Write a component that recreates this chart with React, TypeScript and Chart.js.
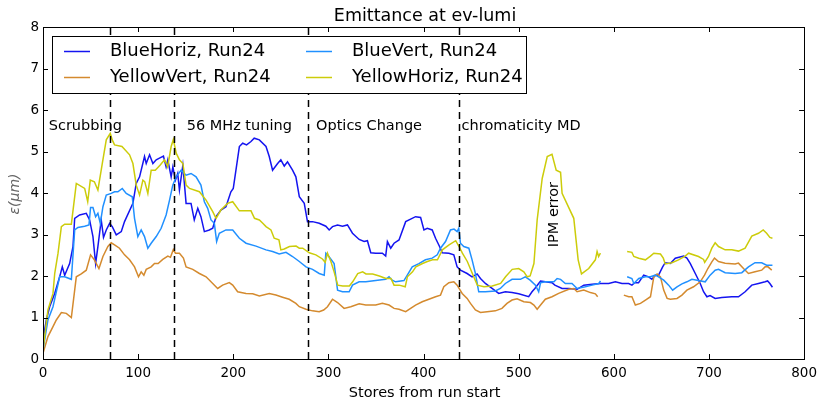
import React, { useEffect, useRef } from "react";
import { Chart, registerables } from "chart.js";

Chart.register(...registerables);

// ---------- data ----------
const bhX = [0, 3.5, 7, 12.3, 17.5, 20.3, 22.8, 28, 31.5, 33.3, 38.5, 45.5, 49, 52.5, 55.3, 57.7, 61.2, 63.6, 66.5, 70, 72.8, 77, 82.3, 85.7, 94.5, 98, 101.5, 106.7, 108.5, 112, 115.5, 119, 122.4, 126.6, 129.4, 131.2, 134.7, 136.5, 139.2, 141.6, 143.4, 147, 150.4, 155.6, 159, 162.7, 166, 169.6, 174.8, 178.4, 181.9, 187, 192.3, 197.5, 200, 206.4, 209.9, 214, 218.6, 222, 227.4, 234.4, 237.8, 241.3, 246.6, 250, 253.6, 257, 262.3, 265.8, 269.4, 274.6, 278, 283.3, 290.3, 297.3, 300.8, 304.3, 309.6, 314.8, 320, 325.3, 332.3, 337.5, 341, 344.5, 349.7, 356.7, 360.2, 362, 365.5, 369, 374.2, 381.2, 386.4, 391.6, 396.9, 400.4, 403.9, 409.1, 412.6, 416.8, 419.6, 426.6, 431.8, 435.3, 438.8, 445.8, 451, 456.3, 459.8, 465, 472, 479, 486, 493, 500, 510.5, 514, 517, 521, 523, 528, 535, 538, 545.6, 552.6, 561.4, 568.4, 577.2, 586, 594.6, 601.6, 608.6, 615.6, 619, 622, 626, 631.4, 636.6, 640, 643.6, 647, 651.3, 654, 659.4, 664.6, 673.4, 676.8, 680.4, 685.6, 690.8, 694.3, 697.8, 701.2, 706.5, 713.5, 724, 731, 738, 745, 752, 759, 761.6, 764, 766.7];
const bhY = [0.46, 0.94, 1.26, 1.58, 1.98, 2.22, 2.02, 2.3, 2.71, 3.39, 3.47, 3.51, 3.35, 2.95, 2.3, 2.71, 3.35, 2.93, 3.11, 3.27, 3.19, 2.99, 3.07, 3.31, 3.75, 4.23, 4.39, 4.88, 4.71, 4.92, 4.71, 4.8, 4.84, 4.89, 4.63, 4.8, 4.39, 4.63, 4.31, 4.47, 4.07, 4.67, 3.75, 3.75, 3.35, 3.63, 3.43, 3.07, 3.11, 3.15, 3.43, 3.59, 3.67, 4.03, 4.11, 5.12, 5.2, 5.16, 5.24, 5.32, 5.28, 5.12, 4.88, 4.55, 4.71, 4.8, 4.65, 4.75, 4.55, 4.39, 3.91, 3.75, 3.31, 3.31, 3.27, 3.2, 3.11, 3.19, 3.23, 3.2, 3.23, 3.03, 2.88, 2.83, 2.85, 2.56, 2.55, 2.55, 2.48, 2.83, 2.67, 2.79, 2.87, 3.31, 3.37, 3.43, 3.41, 3.11, 3.15, 3.11, 2.91, 2.71, 2.56, 2.55, 2.51, 2.22, 2.14, 2.06, 1.98, 2.05, 1.94, 1.82, 1.7, 1.58, 1.62, 1.6, 1.57, 1.5, 1.62, 1.7, 1.82, 1.88, 1.86, 1.84, 1.78, 1.7, 1.7, 1.68, 1.78, 1.8, 1.82, 1.82, 1.86, 1.82, 1.82, 1.78, 1.84, 1.84, 2.02, 1.98, 1.92, 2.02, 2.02, 2.22, 2.32, 2.3, 2.43, 2.48, 2.43, 2.3, 2.06, 1.82, 1.62, 1.5, 1.53, 1.46, 1.48, 1.5, 1.5, 1.62, 1.78, 1.82, 1.86, 1.88, 1.82, 1.73];

const yvX = [0, 5.2, 10.5, 14, 19.3, 24.5, 29.8, 35, 40.2, 45.5, 50, 54, 58.8, 63, 68.2, 71.7, 75.2, 80.4, 85.7, 91, 96.2, 100.4, 103.2, 106, 108.5, 113.7, 117.2, 121, 125.9, 131.2, 134, 137, 139.2, 143.4, 147.6, 150.4, 157.4, 164.4, 171.4, 178.4, 183.6, 188.8, 195.8, 199.4, 204.6, 213.4, 220.4, 227.4, 237.8, 244.8, 251.8, 258.8, 265.8, 269.4, 276.4, 283.3, 290.3, 295, 299, 304.3, 309.6, 316.5, 323.5, 332.3, 339.3, 349.7, 356.7, 363.7, 369, 374.2, 381.2, 386.4, 391.6, 398.6, 405.6, 412.6, 417.8, 421.3, 426.6, 431.8, 435.3, 440.6, 445.8, 449.3, 454.5, 459.8, 466.8, 475.5, 482.4, 487.7, 493, 498.3, 505.4, 512.3, 516, 519.4, 523, 528, 535, 542, 552.6, 557.9, 561.4, 568.4, 575.4, 580.6, 583, 597, 610.5, 615.6, 619, 622.6, 628, 633.2, 638.5, 642, 645.5, 649, 652.4, 656, 659.4, 666.4, 671.6, 676.8, 683.8, 690.8, 695.3, 698.8, 703, 705.8, 710, 717, 727.5, 731, 736.3, 741.5, 748.4, 755.4, 759, 762, 766];
const yvY = [0.14, 0.54, 0.78, 0.94, 1.12, 1.1, 1.0, 1.98, 2.05, 2.14, 2.51, 2.39, 2.18, 2.47, 2.71, 2.8, 2.75, 2.67, 2.51, 2.39, 2.22, 1.98, 2.1, 2.02, 2.16, 2.22, 2.3, 2.3, 2.4, 2.48, 2.45, 2.64, 2.55, 2.55, 2.43, 2.22, 2.16, 2.06, 1.98, 1.82, 1.7, 1.78, 1.84, 1.78, 1.62, 1.58, 1.57, 1.52, 1.58, 1.54, 1.49, 1.44, 1.34, 1.26, 1.2, 1.16, 1.14, 1.18, 1.26, 1.44, 1.36, 1.22, 1.26, 1.33, 1.3, 1.3, 1.34, 1.3, 1.22, 1.2, 1.14, 1.22, 1.3, 1.38, 1.44, 1.5, 1.54, 1.74, 1.84, 1.86, 1.78, 1.58, 1.46, 1.34, 1.18, 1.12, 1.14, 1.16, 1.22, 1.34, 1.42, 1.45, 1.38, 1.36, 1.3, 1.2, 1.3, 1.44, 1.5, 1.58, 1.68, 1.7, 1.62, 1.66, 1.6, 1.57, 1.5, null, 1.54, 1.5, 1.5, 1.3, 1.34, 1.42, 1.5, 1.98, 2.05, 1.98, 1.66, 1.46, 1.44, 1.46, 1.54, 1.66, 1.74, 1.86, 2.02, 2.18, 2.34, 2.43, 2.35, 2.31, 2.29, 2.31, 2.18, 2.06, 2.1, 2.14, 2.22, 2.22, 2.14];

const bvX = [0, 5.2, 10.5, 17.5, 22.8, 29.8, 33.3, 36.7, 43.8, 48.3, 50, 52.5, 55.3, 57.7, 60.2, 63, 66.5, 71.7, 75.2, 78.7, 83.3, 87.5, 93.8, 96.2, 99.7, 103.2, 106.7, 110.2, 113.7, 119, 124.2, 129.4, 133, 136.4, 140, 145.2, 150.4, 155.6, 160.9, 166, 169.6, 173.1, 176.6, 180.1, 182.5, 185.3, 192.3, 199.4, 206.4, 213.4, 223.9, 234.4, 241.3, 248.3, 255.4, 262.3, 269.4, 276.4, 283.3, 290.3, 295.6, 297.3, 300.5, 306, 309.6, 314.8, 321.8, 325.3, 332.3, 339.3, 349.7, 360.2, 363.7, 367, 370.6, 379.4, 382.9, 388.1, 395.1, 402, 409.1, 414.4, 417.8, 423.1, 428.3, 432, 435.3, 437, 438.8, 442.3, 447.6, 451, 454.5, 458, 465, 475.5, 480.7, 486, 493, 501.8, 507, 512, 517.6, 521, 523, 528, 537, 540.4, 544, 549, 556, 561.4, 570, 577.2, 584.2, 586, 600, 614, 619, 621, 626.2, 633.2, 638.5, 643.6, 647, 652.4, 657.6, 661.8, 666.4, 671.6, 676.8, 682, 689, 696, 701.2, 706.5, 710, 717, 727.5, 734.5, 741.5, 748.4, 755.4, 760.6, 766.7];
const bvY = [0.22, 0.94, 1.26, 1.98, 1.98, 1.92, 3.11, 3.17, 3.2, 3.23, 3.65, 3.65, 3.43, 3.51, 3.27, 3.67, 3.95, 3.99, 4.03, 4.03, 4.11, 3.99, 3.91, 3.39, 2.95, 3.11, 2.95, 2.67, 2.79, 2.95, 3.15, 3.47, 3.83, 4.19, 4.39, 4.55, 4.43, 4.47, 4.39, 4.19, 3.79, 3.63, 3.35, 3.27, 2.83, 3.03, 3.11, 3.11, 2.91, 2.79, 2.72, 2.63, 2.59, 2.53, 2.57, 2.47, 2.35, 2.22, 2.16, 2.06, 2.02, 2.55, 2.47, 2.3, 1.66, 1.62, 1.62, 1.78, 1.86, 1.86, 1.89, 1.92, 1.98, 1.9, 1.86, 1.89, 2.02, 2.22, 2.3, 2.39, 2.43, 2.51, 2.67, 2.83, 3.11, 3.13, 3.07, 3.15, 2.79, 2.71, 2.67, 2.39, 2.06, 1.62, 1.62, 1.64, 1.7, 1.82, 1.92, 1.92, 1.98, 1.9, 1.78, 1.62, 1.84, 1.86, 1.86, 1.94, 1.92, 1.82, 1.82, 1.7, 1.74, 1.78, 1.82, 1.88, null, 1.98, 1.94, 1.82, 1.94, 1.98, 1.98, 2.02, 1.98, 1.9, 1.78, 1.66, 1.74, 1.81, 1.86, 1.92, 1.89, 1.86, 2.02, 2.14, 2.16, 2.08, 2.06, 2.08, 2.22, 2.32, 2.32, 2.26, 2.26];

const yhX = [0, 5.2, 10.5, 12.3, 15.8, 19.3, 22.8, 29.8, 35, 43.8, 47, 49.7, 54, 57.7, 62.3, 66.5, 70.7, 72.8, 75.2, 83, 91, 94.5, 98, 101.5, 105, 107, 110.2, 113.7, 118, 123, 127.7, 131, 134.7, 137, 140, 143.4, 147, 150.4, 154, 164.4, 171.4, 178.4, 181.9, 187, 194, 199.4, 206.4, 213.4, 218.6, 222.3, 227.4, 231, 234.4, 239.6, 243, 248, 250, 253.6, 259, 266, 269.4, 273, 279.9, 286.8, 293.7, 296.6, 299, 302.6, 306, 309.8, 315, 322, 325.5, 330.8, 336, 339.5, 346.5, 353.5, 360.5, 365.7, 369, 374.4, 380.7, 383, 388.4, 391.9, 398.9, 404, 409.4, 414.6, 419.8, 426.8, 433.8, 437.3, 440.8, 446, 451.3, 456.5, 463.5, 472.2, 481, 486.2, 493.2, 500, 505.4, 509, 512, 516, 519.4, 524.7, 530, 535, 539.4, 544, 545.6, 557.9, 562.5, 566, 573.6, 580.6, 582.4, 584, 585.9, 600, 614, 619, 621, 626.2, 633.2, 638.5, 642, 649, 652, 654, 661, 668, 675, 678.6, 689, 694.3, 695.5, 699.5, 703, 706.5, 710, 717, 724, 731, 738, 745, 752, 757, 760.6, 764, 766.7];
const yhY = [0.22, 1.18, 1.58, 2.06, 2.55, 3.19, 3.25, 3.25, 4.23, 4.11, 3.79, 4.31, 4.27, 4.07, 4.71, 5.28, 5.44, 5.28, 5.16, 5.12, 4.92, 4.71, 4.19, 3.95, 4.31, 4.27, 3.99, 4.55, 4.55, 4.67, 4.8, 4.63, 5.12, 5.29, 4.96, 4.8, 4.71, 4.19, 4.11, 4.03, 3.83, 3.55, 3.39, 3.59, 3.75, 3.79, 3.57, 3.57, 3.57, 3.39, 3.35, 3.27, 3.19, 3.11, 2.91, 2.87, 2.63, 2.65, 2.71, 2.72, 2.67, 2.67, 2.56, 2.51, 2.41, 2.33, 2.55, 2.35, 2.1, 1.78, 1.76, 1.76, 1.86, 2.06, 2.1, 2.05, 2.05, 2.0, 1.94, 1.94, 1.78, 1.78, 1.74, 1.98, 2.1, 2.22, 2.3, 2.35, 2.39, 2.39, 2.63, 2.75, 2.85, 2.71, 2.55, 2.35, 2.06, 1.78, 1.74, 1.76, 1.82, 1.98, 2.16, 2.18, 2.1, 1.98, 2.0, 2.3, 3.35, 4.35, 4.88, 4.93, 4.55, 4.5, 3.99, 3.39, 2.39, 2.05, 2.18, 2.39, 2.59, 2.47, 2.55, null, 2.59, 2.57, 2.47, 2.43, 2.39, 2.48, 2.55, 2.53, 2.43, 2.29, 2.32, 2.39, 2.48, 2.55, 2.47, 2.4, 2.33, 2.47, 2.67, 2.8, 2.71, 2.63, 2.63, 2.6, 2.67, 2.96, 3.03, 3.11, 3.03, 2.93, 2.91];

const seriesNames = ["BlueHoriz, Run24", "BlueVert, Run24", "YellowVert, Run24", "YellowHoriz, Run24"];
const seriesColors = ["#1414f0", "#2090ff", "#d48a2e", "#cccc0a"];

const xTicks = [0, 100, 200, 300, 400, 500, 600, 700, 800];
const yTicks = [0, 1, 2, 3, 4, 5, 6, 7, 8];

const markerX = [70, 138, 279, 437];
const phaseLabels = ["Scrubbing", "56 MHz tuning", "Optics Change", "chromaticity MD"];
const phaseLabelX = [6, 151, 287, 440];
const phaseLabelY = 5.6;
const noteText = "IPM error";
const noteX = 537.5;
const noteY = 3.48;

const titleText = "Emittance at ev-lumi";
const xTitle = "Stores from run start";
const yTitle = "ε(μm)";

const FONT = "'DejaVu Sans', sans-serif";

function pts(xs: number[], ys: (number | null)[]) {
  return xs.map((x, i) => ({ x, y: ys[i] }));
}

const decorPlugin = {
  id: "decor",
  afterDatasetsDraw(chart: any) {
    const { ctx, chartArea, scales } = chart;
    const xs = scales.x;
    const ys = scales.y;
    const { left, right, top, bottom } = chartArea;

    ctx.save();
    // phase labels (under the dashed lines)
    ctx.fillStyle = "#000";
    ctx.font = `14.5px ${FONT}`;
    ctx.textAlign = "left";
    ctx.textBaseline = "middle";
    phaseLabels.forEach((t, i) => {
      ctx.fillText(t, xs.getPixelForValue(phaseLabelX[i]), ys.getPixelForValue(phaseLabelY));
    });
    ctx.save();
    ctx.translate(xs.getPixelForValue(noteX), ys.getPixelForValue(noteY));
    ctx.rotate(-Math.PI / 2);
    ctx.textAlign = "center";
    ctx.fillText(noteText, 0, 0);
    ctx.restore();

    // dashed markers
    ctx.save();
    ctx.beginPath();
    ctx.rect(left, top, right - left, bottom - top);
    ctx.clip();
    ctx.strokeStyle = "#000";
    ctx.lineWidth = 1.5;
    ctx.setLineDash([7, 5]);
    for (const m of markerX) {
      const px = Math.round(xs.getPixelForValue(m)) + 0.5;
      ctx.beginPath();
      ctx.moveTo(px, bottom);
      ctx.lineTo(px, top);
      ctx.stroke();
    }
    ctx.restore();

    ctx.setLineDash([]);
    // frame
    ctx.strokeStyle = "#000";
    ctx.lineWidth = 1;
    ctx.strokeRect(Math.round(left) + 0.5, Math.round(top) + 0.5, Math.round(right - left), Math.round(bottom - top));

    // inward ticks
    const tl = 5;
    ctx.beginPath();
    for (const t of xTicks) {
      const px = Math.round(xs.getPixelForValue(t)) + 0.5;
      ctx.moveTo(px, bottom);
      ctx.lineTo(px, bottom - tl);
      ctx.moveTo(px, top);
      ctx.lineTo(px, top + tl);
    }
    for (const t of yTicks) {
      const py = Math.round(ys.getPixelForValue(t)) + 0.5;
      ctx.moveTo(left, py);
      ctx.lineTo(left + tl, py);
      ctx.moveTo(right, py);
      ctx.lineTo(right - tl, py);
    }
    ctx.stroke();

    // legend
    const lx = left + 9;
    const ly = top + 9;
    const lw = 474;
    const lh = 57;
    ctx.fillStyle = "#fff";
    ctx.fillRect(lx, ly, lw, lh);
    ctx.strokeStyle = "#000";
    ctx.lineWidth = 1;
    ctx.strokeRect(Math.round(lx) + 0.5, Math.round(ly) + 0.5, lw, lh);
    const order = [0, 2, 1, 3];
    ctx.font = `18px ${FONT}`;
    ctx.textAlign = "left";
    ctx.textBaseline = "middle";
    order.forEach((si, k) => {
      const col = Math.floor(k / 2);
      const row = k % 2;
      const bx = lx + 12 + col * 242;
      const by = ly + 15.5 + row * 26;
      ctx.strokeStyle = seriesColors[si];
      ctx.lineWidth = 1.5;
      ctx.beginPath();
      ctx.moveTo(bx, by);
      ctx.lineTo(bx + 26, by);
      ctx.stroke();
      ctx.fillStyle = "#000";
      ctx.fillText(seriesNames[si], bx + 46, by);
    });

    // titles
    const cx = (left + right) / 2;
    ctx.textAlign = "center";
    ctx.textBaseline = "alphabetic";
    ctx.fillStyle = "#000";
    ctx.font = `17.5px ${FONT}`;
    ctx.fillText(titleText, cx + 1.5, 21);
    ctx.font = `14.5px ${FONT}`;
    ctx.fillText(xTitle, cx + 1, 397);
    ctx.save();
    ctx.translate(19, (top + bottom) / 2 + 1);
    ctx.rotate(-Math.PI / 2);
    ctx.font = `italic 14px ${FONT}`;
    ctx.fillStyle = "#666";
    ctx.fillText(yTitle, 0, 0);
    ctx.restore();

    ctx.restore();
  },
};

export default function App() {
  const ref = useRef<HTMLCanvasElement | null>(null);
  useEffect(() => {
    document.body.style.margin = "0";
    const canvas = ref.current;
    if (!canvas) return;
    const data = [pts(bhX, bhY), pts(bvX, bvY), pts(yvX, yvY), pts(yhX, yhY)];
    const drawOrder = [4, 2, 3, 1];
    const chart = new Chart(canvas, {
      type: "line",
      data: {
        datasets: data.map((d, i) => ({
          label: seriesNames[i],
          data: d,
          borderColor: seriesColors[i],
          backgroundColor: seriesColors[i],
          borderWidth: 1.5,
          pointRadius: 0,
          tension: 0,
          spanGaps: false,
          fill: false,
          order: drawOrder[i],
        })),
      },
      options: {
        animation: false,
        responsive: false,
        devicePixelRatio: 1,
        layout: { padding: { top: 27, right: 17, left: 0, bottom: 0 } },
        plugins: {
          legend: { display: false },
          title: { display: false },
          tooltip: { enabled: false },
        },
        scales: {
          x: {
            type: "linear",
            min: 0,
            max: 800,
            afterFit: (s: any) => {
              s.height = 41;
            },
            grid: { display: false, drawTicks: false },
            border: { display: false },
            ticks: {
              stepSize: 100,
              padding: 6,
              color: "#000",
              maxRotation: 0,
              font: { family: FONT, size: 13.5 },
            },
          },
          y: {
            type: "linear",
            min: 0,
            max: 8,
            afterFit: (s: any) => {
              s.width = 43;
            },
            grid: { display: false, drawTicks: false },
            border: { display: false },
            ticks: {
              stepSize: 1,
              padding: 4,
              color: "#000",
              font: { family: FONT, size: 13.5 },
            },
          },
        },
      },
      plugins: [decorPlugin],
    } as any);
    return () => chart.destroy();
  }, []);
  return (
    <div style={{ width: 823, height: 400 }}>
      <canvas ref={ref} width={823} height={400} style={{ width: 823, height: 400, display: "block" }} />
    </div>
  );
}
